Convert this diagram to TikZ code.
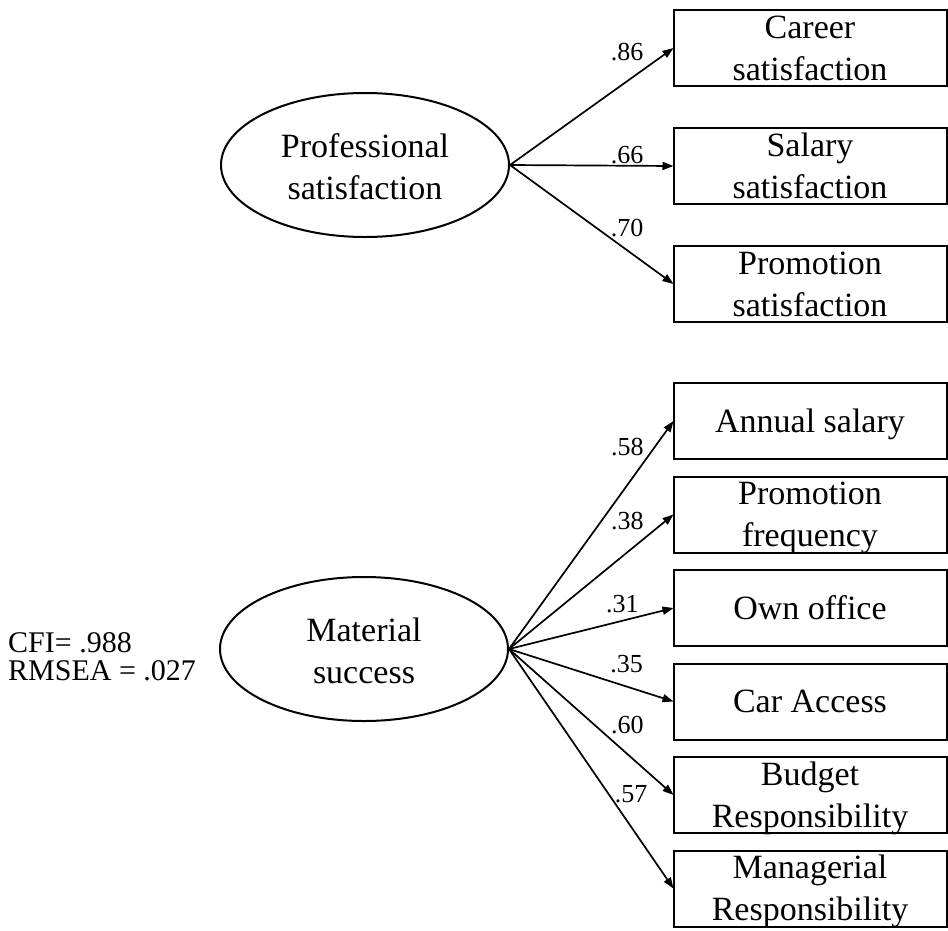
\documentclass[tikz,border=0pt]{standalone}
\usepackage{fontspec}
\setmainfont{Liberation Serif}
\usetikzlibrary{arrows.meta,positioning,shapes.geometric}

\begin{document}
\begin{tikzpicture}[
    x=1pt, y=-1pt, % pixel-like units, y grows downwards
    node distance=17.5pt, % Default gap between stacked boxes
    >={Triangle[length=11pt,width=8pt]},
    latent/.style={ellipse, draw, line width=2pt, minimum width=288pt, minimum height=144pt,
        inner sep=0pt, align=center, font=\fontsize{34}{42}\selectfont, text height=68pt, text depth=0pt},
    item/.style={rectangle, draw, line width=2pt, minimum width=273pt, minimum height=76pt,
        inner sep=0pt, outer sep=0pt, align=center, font=\fontsize{34}{42}\selectfont, text height=64pt, text depth=0pt},
    oneline/.style={text height=22pt, text depth=0pt}, % single line boxes
    load/.style={font=\fontsize{26}{28}\selectfont, inner sep=0pt},
    arr/.style={->, line width=1.7pt}
]
    \useasboundingbox (0,0) rectangle (948,930);

    % Latent variables
    \node[latent] (ps) at (365,165) {Professional\\satisfaction};
    \node[latent] (ms) at (364,649) {Material\\success};
    \node[anchor=west, align=left, inner sep=0pt, font=\fontsize{30}{28}\selectfont] (fitidx) at (8,657) {CFI= .988\\RMSEA = .027};

    % Indicators of professional satisfaction
    \node[item] (car) at (810,48) {Career\\satisfaction};
    \node[item, below=42pt of car] (salsat) {Salary\\satisfaction};
    \node[item, below=42pt of salsat] (promsat) {Promotion\\satisfaction};

    % Indicators of material success
    \node[item, oneline] (ann) at (810,421) {Annual salary};
    \node[item, below=of ann] (promfreq) {Promotion\\frequency};
    \node[item, oneline, below=of promfreq] (office) {Own office};
    \node[item, oneline, below=of office] (carac) {Car Access};
    \node[item, below=of carac] (budget) {Budget\\Responsibility};
    \node[item, below=of budget] (manag) {Managerial\\Responsibility};

    % Loadings
    \draw[arr] (ps.east) -- node[load, pos=.717, yshift=29pt] {.86} (car.west);
    \draw[arr] (ps.east) -- node[load, pos=.717, yshift=11pt] {.66} (salsat.west);
    \draw[arr] (ps.east) -- node[load, pos=.717, yshift=22pt] {.70} (promsat.west);

    \draw[arr] (ms.east) -- node[load, pos=.719, yshift=38pt] {.58} (ann.west);
    \draw[arr] (ms.east) -- node[load, pos=.719, yshift=31pt] {.38} (promfreq.west);
    \draw[arr] (ms.east) -- node[load, pos=.689, yshift=17pt] {.31} (office.west);
    \draw[arr] (ms.east) -- node[load, pos=.715, yshift=22.5pt] {.35} (carac.west);
    \draw[arr] (ms.east) -- node[load, pos=.719, yshift=29pt] {.60} (budget.west);
    \draw[arr] (ms.east) -- node[load, pos=.743, yshift=33pt] {.57} (manag.west);
\end{tikzpicture}
\end{document}
